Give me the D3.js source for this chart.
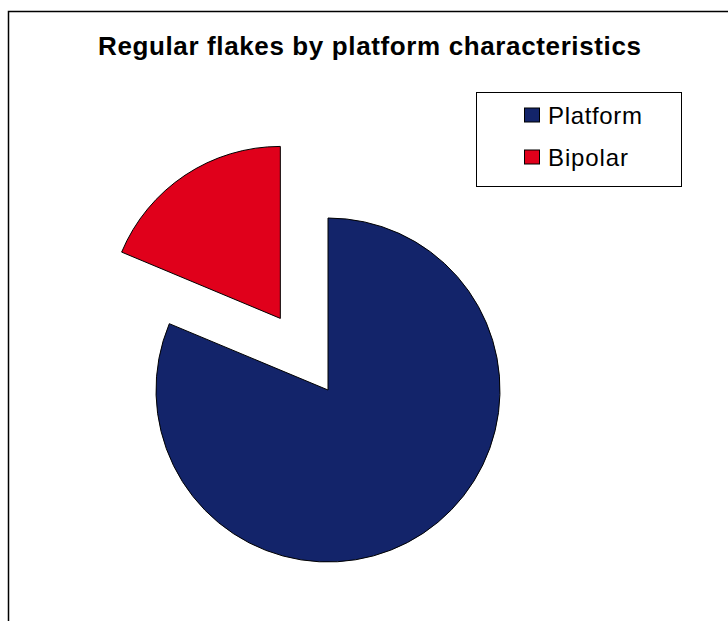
<!DOCTYPE html>
<html>
<head>
<meta charset="utf-8">
<script src="https://cdn.jsdelivr.net/npm/d3@7"></script>
<style>
  html, body { margin: 0; padding: 0; background: #fff; }
  svg { display: block; }
</style>
</head>
<body>
<svg id="chart" width="728" height="621"></svg>
<script>
const categories = ["Platform", "Bipolar"];
const values = [81.3, 18.7];
const colors = ["#13246A", "#E0001B"];
const explode = [0, 86];
const titleText = "Regular flakes by platform characteristics";

const svg = d3.select("#chart");
const W = 728, H = 621;

// outer frame (cropped at right and bottom)
svg.append("path")
  .attr("d", `M8.5,${H + 5} L8.5,11.5 L${W + 5},11.5`)
  .attr("fill", "none")
  .attr("stroke", "#000")
  .attr("stroke-width", 1.5);

// title
svg.append("text")
  .attr("x", 98)
  .attr("y", 55)
  .attr("textLength", 543)
  .attr("lengthAdjust", "spacing")
  .attr("font-family", "Liberation Sans, Arial, sans-serif")
  .attr("font-weight", "bold")
  .attr("font-size", 26)
  .attr("fill", "#000")
  .text(titleText);

// pie
const cx = 328, cy = 390, r = 172;
const pie = d3.pie().sort(null).value(d => d.v).startAngle(0).endAngle(2 * Math.PI);
const arc = d3.arc().innerRadius(0).outerRadius(r);
const data = categories.map((c, i) => ({ c, v: values[i], col: colors[i], ex: explode[i] }));
const g = svg.append("g").attr("transform", `translate(${cx},${cy})`);
g.selectAll("path.slice")
  .data(pie(data))
  .join("path")
  .attr("class", "slice")
  .attr("d", arc)
  .attr("fill", d => d.data.col)
  .attr("stroke", "#000")
  .attr("stroke-width", 1)
  .attr("transform", d => {
    const a = (d.startAngle + d.endAngle) / 2;
    return `translate(${d.data.ex * Math.sin(a)},${-d.data.ex * Math.cos(a)})`;
  });

// legend
const lg = svg.append("g");
lg.append("rect")
  .attr("x", 476.5).attr("y", 92.5)
  .attr("width", 205).attr("height", 94)
  .attr("fill", "#fff").attr("stroke", "#000").attr("stroke-width", 1);
const legendY = d3.scalePoint().domain(categories).range([115, 157]);
const labelLens = { "Platform": 94, "Bipolar": 80 };
categories.forEach((c, i) => {
  const y = legendY(c);
  lg.append("rect")
    .attr("x", 524.5).attr("y", y - 7)
    .attr("width", 15).attr("height", 14)
    .attr("fill", colors[i]).attr("stroke", "#000").attr("stroke-width", 1);
  lg.append("text")
    .attr("x", 548).attr("y", y + 8.5)
    .attr("textLength", labelLens[c])
    .attr("lengthAdjust", "spacing")
    .attr("font-family", "Liberation Sans, Arial, sans-serif")
    .attr("font-size", 24)
    .attr("fill", "#000")
    .text(c);
});
</script>
</body>
</html>
